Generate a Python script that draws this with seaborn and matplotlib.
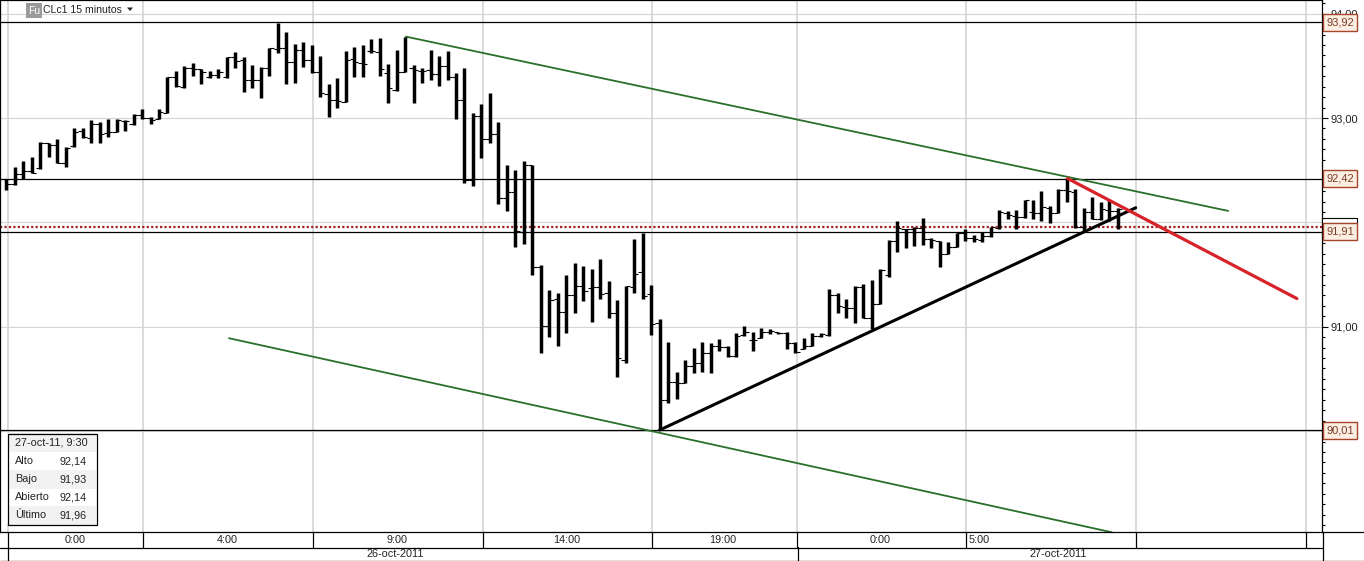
import matplotlib
matplotlib.use("Agg")
import matplotlib.pyplot as plt
from matplotlib.patches import Polygon, Rectangle
from matplotlib.ticker import FixedLocator, MultipleLocator
import numpy as np
import pandas as pd
import seaborn as sns

highs = [
    92.57, 92.42, 92.53, 92.59, 92.63, 92.77, 92.76, 92.80, 92.72, 92.90, 92.90, 92.98, 92.96, 92.99, 92.99, 92.98, 93.04, 93.09, 93.01, 93.09,
    93.39, 93.45, 93.50, 93.53, 93.47, 93.45, 93.47, 93.58, 93.63, 93.58, 93.51, 93.49, 93.67, 93.91, 93.82, 93.71, 93.73, 93.70, 93.59, 93.33,
    93.38, 93.64, 93.68, 93.70, 93.76, 93.77, 93.52, 93.65, 93.78, 93.51, 93.48, 93.65, 93.59, 93.64, 93.43, 93.48, 93.05, 93.13, 93.24, 92.96,
    92.55, 92.50, 92.59, 92.55, 91.59, 91.35, 91.32, 91.50, 91.61, 91.58, 91.55, 91.65, 91.44, 91.26, 91.39, 91.84, 91.90, 91.40, 91.07, 90.85,
    90.57, 90.68, 90.80, 90.85, 90.84, 90.88, 90.82, 90.94, 91.01, 90.95, 90.99, 90.98, 90.95, 90.95, 90.85, 90.89, 90.94, 90.94, 91.36, 91.32,
    91.27, 91.39, 91.41, 91.45, 91.55, 91.83, 92.01, 91.94, 91.96, 92.04, 91.85, 91.82, 91.81, 91.90, 91.94, 91.88, 91.91, 91.96, 92.12, 92.11,
    92.12, 92.21, 92.21, 92.30, 92.16, 92.32, 92.43, 92.32, 92.14, 92.24, 92.20, 92.21, 92.14,
]
lows = [
    92.41, 92.31, 92.36, 92.42, 92.47, 92.51, 92.63, 92.57, 92.53, 92.72, 92.81, 92.76, 92.76, 92.82, 92.87, 92.88, 92.93, 92.99, 92.94, 92.99,
    93.05, 93.30, 93.29, 93.40, 93.33, 93.38, 93.38, 93.38, 93.48, 93.25, 93.29, 93.19, 93.40, 93.62, 93.33, 93.34, 93.49, 93.43, 93.20, 93.01,
    93.10, 93.15, 93.39, 93.39, 93.62, 93.40, 93.14, 93.26, 93.44, 93.14, 93.34, 93.36, 93.31, 93.36, 92.99, 92.38, 92.35, 92.62, 92.76, 92.18,
    92.11, 91.76, 91.79, 91.50, 90.75, 90.90, 90.82, 90.94, 91.13, 91.25, 91.05, 91.27, 91.08, 90.52, 90.65, 91.32, 91.27, 90.92, 90.01, 90.27,
    90.31, 90.46, 90.56, 90.57, 90.56, 90.77, 90.71, 90.71, 90.91, 90.77, 90.89, 90.93, 90.93, 90.79, 90.75, 90.79, 90.82, 90.90, 90.91, 91.13,
    91.08, 91.04, 91.08, 90.98, 91.22, 91.48, 91.72, 91.75, 91.77, 91.78, 91.75, 91.57, 91.70, 91.76, 91.82, 91.81, 91.81, 91.86, 91.94, 92.03,
    91.94, 92.04, 92.03, 92.01, 91.99, 92.09, 92.20, 91.95, 91.91, 92.03, 92.02, 92.01, 91.94,
]
opens = [
    92.50, 92.42, 92.37, 92.46, 92.49, 92.52, 92.76, 92.74, 92.57, 92.73, 92.88, 92.81, 92.94, 92.86, 92.87, 92.97, 92.94, 93.03, 93.00, 92.99,
    93.05, 93.39, 93.30, 93.48, 93.47, 93.39, 93.41, 93.39, 93.58, 93.56, 93.36, 93.36, 93.48, 93.66, 93.67, 93.54, 93.65, 93.56, 93.44, 93.23,
    93.17, 93.15, 93.57, 93.53, 93.64, 93.63, 93.43, 93.27, 93.44, 93.48, 93.45, 93.46, 93.42, 93.50, 93.39, 93.17, 92.41, 93.02, 92.80, 92.85,
    92.23, 92.29, 91.91, 92.55, 91.57, 91.01, 91.27, 91.14, 91.30, 91.39, 91.37, 91.38, 91.32, 91.13, 90.68, 91.38, 91.52, 91.31, 91.04, 90.30,
    90.47, 90.46, 90.62, 90.65, 90.75, 90.82, 90.81, 90.72, 90.92, 90.87, 90.89, 90.95, 90.95, 90.94, 90.84, 90.79, 90.82, 90.91, 90.92, 91.30,
    91.19, 91.18, 91.38, 91.08, 91.22, 91.50, 91.82, 91.94, 91.94, 91.95, 91.84, 91.82, 91.70, 91.76, 91.90, 91.85, 91.83, 91.87, 91.95, 92.09,
    92.06, 92.05, 92.10, 92.09, 92.14, 92.09, 92.31, 92.29, 91.96, 92.10, 92.03, 92.12, 92.11,
]
closes = [
    92.42, 92.37, 92.46, 92.49, 92.47, 92.76, 92.74, 92.57, 92.71, 92.87, 92.82, 92.94, 92.85, 92.87, 92.98, 92.97, 93.03, 93.00, 92.98, 93.06,
    93.39, 93.31, 93.48, 93.47, 93.44, 93.41, 93.44, 93.58, 93.55, 93.36, 93.36, 93.48, 93.67, 93.67, 93.54, 93.65, 93.56, 93.44, 93.24, 93.17,
    93.16, 93.56, 93.54, 93.52, 93.64, 93.47, 93.29, 93.44, 93.78, 93.46, 93.45, 93.42, 93.50, 93.39, 93.17, 92.41, 93.02, 92.80, 92.85, 92.23,
    92.29, 91.92, 92.55, 91.57, 91.01, 91.26, 91.14, 91.30, 91.39, 91.34, 91.38, 91.31, 91.13, 90.70, 91.39, 91.51, 91.29, 91.03, 90.30, 90.47,
    90.46, 90.62, 90.65, 90.75, 90.82, 90.81, 90.72, 90.91, 90.95, 90.87, 90.95, 90.96, 90.94, 90.84, 90.76, 90.82, 90.91, 90.93, 91.30, 91.20,
    91.18, 91.38, 91.08, 91.22, 91.54, 91.82, 91.95, 91.94, 91.95, 91.84, 91.83, 91.70, 91.76, 91.90, 91.85, 91.84, 91.87, 91.96, 92.10, 92.07,
    92.05, 92.21, 92.09, 92.15, 92.09, 92.31, 92.30, 91.96, 92.10, 92.03, 92.13, 92.11, 92.13,
]

# drawn trend lines: bar number and price at each end
upper_green_x = [48.1, 145.0]
upper_green_y = [93.78, 92.11]
lower_green_x = [27.25, 131.3]
lower_green_y = [90.89, 89.03]
support_x = [78.0, 134.1]
support_y = [90.01, 92.14]
red_x = [126.1, 153.1]
red_y = [92.42, 91.27]

level_lines = [93.92, 92.42, 91.91, 90.01]
level_labels = ["93,92", "92,42", "91,91", "90,01"]
dotted_level = 91.96

price_ticks = [94, 93, 92, 91, 90, 89]
price_tick_labels = ["94,00", "93,00", "", "91,00", "", ""]
session_ticks = [1.2, 17.15, 37.2, 57.2, 77.1, 94.2, 114.1, 134.1, 154.2]
hour_labels = ["0:00", "4:00", "9:00", "14:00", "19:00", "0:00", "5:00"]
date_labels = ["26-oct-2011", "27-oct-2011"]

info_header = "27-oct-11, 9:30"
info_names = ["Alto", "Bajo", "Abierto", "Último"]
info_values = ["92,14", "91,93", "92,14", "91,96"]

W, H = 1364, 561
GREEN = "#2a6f2a"
RED = "#d8222a"
GRID = "#d4d4d4"
BOX_EDGE = "#a5452c"
BOX_FILL = "#fdeee2"

sns.set_theme(style="white")
plt.rcParams["font.family"] = ["Liberation Sans", "DejaVu Sans"]
plt.rcParams["font.size"] = 8

fig = plt.figure(figsize=(W / 100, H / 100), dpi=100, facecolor="white")
ax = fig.add_axes([0, (H - 532) / H, 1322 / W, 532 / H])

bars = pd.DataFrame({"bar": range(len(highs)), "high": highs, "low": lows, "open": opens, "close": closes})
ranges = bars.melt(id_vars="bar", value_vars=["high", "low"], value_name="price")
ranges = ranges.sort_values(["bar", "variable"])

ax.xaxis.set_major_locator(FixedLocator(session_ticks))
ax.tick_params(axis="x", length=0, labelbottom=False)
ax.yaxis.tick_right()
ax.set_yticks(price_ticks, price_tick_labels)
ax.yaxis.set_minor_locator(MultipleLocator(0.1))
ax.tick_params(axis="y", which="major", length=4.5, width=0.8, color="black", pad=1.5, labelsize=8, labelcolor="#222222")
ax.tick_params(axis="y", which="minor", length=2.2, width=0.8, color="black", right=True)
ax.grid(True, which="major", color=GRID, linewidth=0.8)
ax.xaxis.grid(True, linewidth=1.2)
ax.set_axisbelow(True)
for spine in ax.spines.values():
    spine.set_color("black")
    spine.set_linewidth(0.9)
    spine.set_visible(True)

for level in level_lines:
    ax.axhline(level, color="black", linewidth=0.9, zorder=1.8)
ax.axhline(dotted_level, color="#a02222", linewidth=1.6, linestyle=(0, (1.0, 1.0)), zorder=1.9)

sns.lineplot(data=ranges, x="bar", y="price", units="bar", estimator=None, sort=False,
             color="black", linewidth=2.5, solid_capstyle="butt", legend=False, ax=ax)
ax.hlines(bars["open"], bars["bar"] - 0.5, bars["bar"], color="black", linewidth=0.8)
ax.hlines(bars["close"], bars["bar"], bars["bar"] + 0.5, color="black", linewidth=0.8)

sns.lineplot(x=upper_green_x, y=upper_green_y, color=GREEN, linewidth=1.3, ax=ax)
sns.lineplot(x=lower_green_x, y=lower_green_y, color=GREEN, linewidth=1.3, ax=ax)
sns.lineplot(x=support_x, y=support_y, color="black", linewidth=2.2, ax=ax)
sns.lineplot(x=red_x, y=red_y, color=RED, linewidth=2.3, ax=ax)
ax.set_xlabel("")
ax.set_ylabel("")

# limits last, set_yticks would otherwise widen them
ax.set_xlim(0.26, 156.06)
ax.set_ylim(89.033, 94.131)

# overlay in pixel coordinates for the window furniture
px = fig.add_axes([0, 0, 1, 1], facecolor="none")
px.set_xlim(0, W)
px.set_ylim(H, 0)
px.axis("off")

to_pixel = ax.transData
for level, label in zip(level_lines, level_labels):
    y_pos = H - to_pixel.transform((0, level))[1]
    px.add_patch(Rectangle((1323, y_pos - 8.5), 34, 17, facecolor=BOX_FILL, edgecolor=BOX_EDGE, linewidth=1))
    px.text(1340, y_pos, label, ha="center", va="center", color="#7a3a28", fontsize=8)
px.add_patch(Rectangle((1322, 218), 35, 5, facecolor="white", edgecolor="black", linewidth=0.8, zorder=0.5))

# top left title
px.add_patch(Rectangle((26, 3), 16, 15, facecolor="#999999", edgecolor="none"))
px.text(34, 11, "Fu", ha="center", va="center", color="white", fontsize=7.5)
px.text(43, 10, "CLc1 15 minutos", ha="left", va="center", color="#222222", fontsize=7.6)
px.add_patch(Polygon([[127, 7.5], [133, 7.5], [130, 11]], closed=True, facecolor="#222222", edgecolor="none"))

# info box
px.add_patch(Rectangle((7, 433), 89, 91, facecolor="white", edgecolor="none", zorder=1))
for top in [433, 470, 506]:
    px.add_patch(Rectangle((8, top), 88, 18.5, facecolor="#f2f2f2", edgecolor="none", zorder=1.1))
px.add_patch(Rectangle((7.5, 433.5), 89, 91, facecolor="none", edgecolor="black", linewidth=0.9, zorder=2))
px.text(15, 442, info_header, ha="left", va="center", fontsize=7.8, color="#222222", zorder=3)
for i, (name, value) in enumerate(zip(info_names, info_values)):
    y_pos = 461 + 18 * i
    px.text(15, y_pos, name, ha="left", va="center", fontsize=7.8, color="#222222", zorder=3)
    px.text(87, y_pos, value, ha="right", va="center", fontsize=7.8, color="#222222", zorder=3)

# time and date strips
for y_pos in [547.5, 560.5]:
    px.plot([0, 1322], [y_pos, y_pos], color="black", linewidth=0.9)
px.plot([1322, W], [560.5, 560.5], color="black", linewidth=0.9)
px.plot([1322, W], [532, 532], color="black", linewidth=0.9)
px.plot([1322.5, 1322.5], [532, 561], color="black", linewidth=0.9)
px.plot([7.5, 7.5], [532, 561], color="black", linewidth=0.9)
px.plot([797.5, 797.5], [547, 561], color="black", linewidth=0.9)
tick_px = ax.transData.transform(np.column_stack([session_ticks, np.full(len(session_ticks), 90.0)]))[:, 0]
for x_pos in tick_px[1:]:
    px.plot([x_pos, x_pos], [532, 547], color="black", linewidth=0.9)
for label, x_pos in zip(hour_labels, [75, 227, 397, 567, 723, 880, 979]):
    px.text(x_pos, 540, label, ha="center", va="center", fontsize=7.8, color="#222222")
for label, x_pos in zip(date_labels, [395, 1058]):
    px.text(x_pos, 554, label, ha="center", va="center", fontsize=7.8, color="#222222")

fig.savefig("out.png", dpi=100)
plt.close(fig)
